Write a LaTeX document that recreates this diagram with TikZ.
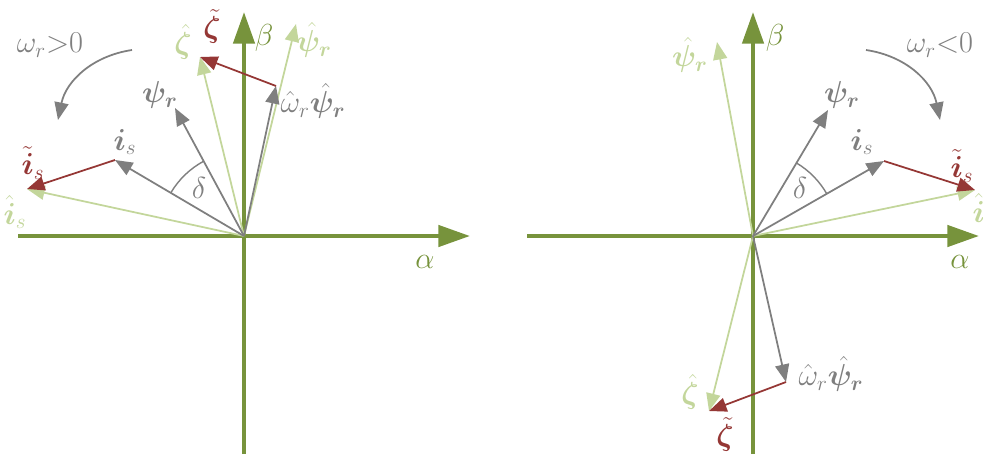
\documentclass[tikz,border=0pt]{standalone}
\usepackage{amsmath,amssymb,bm}
\usetikzlibrary{arrows.meta,calc}
\definecolor{Olive}{HTML}{77933C}
\definecolor{Mint}{HTML}{C3D69B}
\definecolor{Ash}{HTML}{7F7F7F}
\definecolor{Brick}{HTML}{953735}
\tikzset{
  axisarr/.style={-{Triangle[length=18pt,width=12pt]}, line width=2.4pt, color=Olive},
  vecarr/.style={-{Triangle[length=10pt,width=8pt]}, line width=1pt, color=#1},
  vecarr/.default={Ash},
  lbl/.style={inner sep=0pt, font=\fontsize{17}{19}\selectfont, text=#1},
  lbl/.default={Ash},
}

\begin{document}
\begin{tikzpicture}[x=0.02cm, y=-0.02cm]
  \useasboundingbox (0,0) rectangle (983,454);

  % left: omega_r > 0
  \coordinate (oL)   at (244,236);
  \coordinate (aL0)  at (18,236);
  \coordinate (aL1)  at (470,236);
  \coordinate (bL0)  at (244,454);
  \coordinate (bL1)  at (244,12);
  \coordinate (psiL) at (175,108);
  \coordinate (isL)  at (115,160);
  \coordinate (ihL)  at (27,189);
  \coordinate (zhL)  at (200,57);
  \coordinate (wpL)  at (276,86);
  \coordinate (phL)  at (296,24);
  \coordinate (cwL0) at (132,50);
  \coordinate (cwL1) at (58,120);

  \draw[axisarr] (aL0) -- (aL1);
  \draw[axisarr] (bL0) -- (bL1);
  \draw[vecarr=Mint] (oL) -- (ihL);
  \draw[vecarr=Mint] (oL) -- (zhL);
  \draw[vecarr=Mint] (oL) -- (phL);
  \draw[vecarr] (oL) -- (psiL);
  \draw[vecarr] (oL) -- (isL);
  \draw[vecarr] (oL) -- (wpL);
  \draw[vecarr=Brick] (isL) -- (ihL);
  \draw[vecarr=Brick] (wpL) -- (zhL);
  \draw[Ash, line width=0.8pt] ($(oL)+(149.5:1.7cm)$) arc[start angle=149.5, end angle=118.3, radius=1.7cm];
  \draw[vecarr] (cwL0) to[bend right=35] (cwL1);

  \node[lbl]        (wL)    at (50,45)   {$\omega_r{>}0$};
  \node[lbl=Brick]  (ztL)   at (212,26)  {$\tilde{\bm\zeta}$};
  \node[lbl=Olive]  (betL)  at (264,38)  {$\beta$};
  \node[lbl=Mint]   (phtL)  at (314,40)  {$\hat{\bm\psi}_{\bm r}$};
  \node[lbl=Mint]   (zhtL)  at (183,42)  {$\hat{\bm\zeta}$};
  \node[lbl]        (wptL)  at (313,101) {$\hat\omega_r\hat{\bm\psi}_{\bm r}$};
  \node[lbl]        (pstL)  at (160,95)  {$\bm\psi_{\bm r}$};
  \node[lbl]        (istL)  at (125,142) {$\bm i_s$};
  \node[lbl=Brick]  (ittL)  at (33,163)  {$\tilde{\bm i}_s$};
  \node[lbl=Mint]   (ihtL)  at (15,212)  {$\hat{\bm i}_s$};
  \node[lbl]        (dL)    at (199,188) {$\delta$};
  \node[lbl=Olive]  (alpL)  at (425,262) {$\alpha$};

  % right: omega_r < 0
  \coordinate (oR)   at (753,236);
  \coordinate (aR0)  at (527,236);
  \coordinate (aR1)  at (979,236);
  \coordinate (bR0)  at (753,454);
  \coordinate (bR1)  at (753,12);
  \coordinate (phR)  at (717,42);
  \coordinate (psiR) at (828,110);
  \coordinate (isR)  at (884,161);
  \coordinate (ihR)  at (975,190);
  \coordinate (wpR)  at (786,382);
  \coordinate (zhR)  at (709,411);
  \coordinate (cwR0) at (866,50);
  \coordinate (cwR1) at (940,120);

  \draw[axisarr] (aR0) -- (aR1);
  \draw[axisarr] (bR0) -- (bR1);
  \draw[vecarr=Mint] (oR) -- (phR);
  \draw[vecarr=Mint] (oR) -- (ihR);
  \draw[vecarr=Mint] (oR) -- (zhR);
  \draw[vecarr] (oR) -- (psiR);
  \draw[vecarr] (oR) -- (isR);
  \draw[vecarr] (oR) -- (wpR);
  \draw[vecarr=Brick] (isR) -- (ihR);
  \draw[vecarr=Brick] (wpR) -- (zhR);
  \draw[Ash, line width=0.8pt] ($(oR)+(29.8:1.7cm)$) arc[start angle=29.8, end angle=59.2, radius=1.7cm];
  \draw[vecarr] (cwR0) to[bend left=35] (cwR1);

  \node[lbl=Olive]  (betR)  at (775,38)  {$\beta$};
  \node[lbl=Mint]   (phtR)  at (690,55)  {$\hat{\bm\psi}_{\bm r}$};
  \node[lbl]        (wR)    at (940,45)  {$\omega_r{<}0$};
  \node[lbl]        (pstR)  at (842,95)  {$\bm\psi_{\bm r}$};
  \node[lbl]        (istR)  at (862,142) {$\bm i_s$};
  \node[lbl=Brick]  (ittR)  at (962,166) {$\tilde{\bm i}_s$};
  \node[lbl=Mint]   (ihtR)  at (984,210) {$\hat{\bm i}_s$};
  \node[lbl]        (dR)    at (800,188) {$\delta$};
  \node[lbl=Olive]  (alpR)  at (960,262) {$\alpha$};
  \node[lbl]        (wptR)  at (831,374) {$\hat\omega_r\hat{\bm\psi}_{\bm r}$};
  \node[lbl=Mint]   (zhtR)  at (690,392) {$\hat{\bm\zeta}$};
  \node[lbl=Brick]  (ztR)   at (725,434) {$\tilde{\bm\zeta}$};
\end{tikzpicture}
\end{document}
